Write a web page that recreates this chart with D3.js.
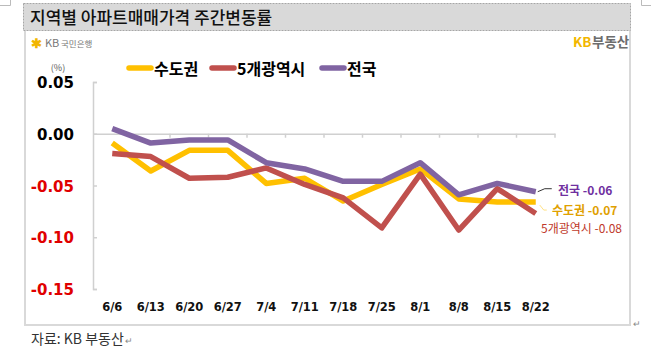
<!DOCTYPE html>
<html><head><meta charset="utf-8">
<script src="https://cdn.jsdelivr.net/npm/d3@7"></script>
<style>
body{margin:0;background:#fff;}
svg{display:block;font-family:"Malgun Gothic","Noto Sans CJK KR",sans-serif;}
</style></head>
<body>
<svg id="c" width="651" height="352"></svg>
<script>
const categories = ["6/6","6/13","6/20","6/27","7/4","7/11","7/18","7/25","8/1","8/8","8/15","8/22"];
const capital = [-0.009,-0.036,-0.016,-0.016,-0.048,-0.043,-0.065,-0.049,-0.034,-0.063,-0.066,-0.066];
const metro5 = [-0.019,-0.022,-0.043,-0.042,-0.033,-0.049,-0.062,-0.091,-0.039,-0.093,-0.053,-0.077];
const national = [0.005,-0.009,-0.006,-0.006,-0.028,-0.034,-0.046,-0.046,-0.028,-0.059,-0.048,-0.056];
const seriesNames = ["수도권","5개광역시","전국"];
const yTicks = [0.05,0.00,-0.05,-0.10,-0.15];
const endLabels = ["수도권 -0.07","5개광역시 -0.08","전국 -0.06"];

const svg = d3.select("#c");
const font = "'Noto Sans CJK KR',sans-serif";

// crop marks
svg.append("path").attr("d","M0,5.5H10.5V0").attr("fill","none").attr("stroke","#bbb").attr("stroke-width",1);
svg.append("path").attr("d","M651,5.5H641.5V0").attr("fill","none").attr("stroke","#bbb").attr("stroke-width",1);

// title bar
svg.append("rect").attr("x",23.5).attr("y",3.5).attr("width",607).attr("height",27)
  .attr("fill","#d9d9d9").attr("stroke","#a6a6a6").attr("stroke-dasharray","2,1").attr("stroke-width",1);
svg.append("text").attr("x",30).attr("y",23.5).attr("font-family",font).attr("font-size",17)
  .attr("font-weight",500).attr("fill","#111").text("지역별 아파트매매가격 주간변동률");
// box
svg.append("path").attr("d","M25,31V325H630V31").attr("fill","none").attr("stroke","#d9d9d9").attr("stroke-width",2);

// logos
const lg = svg.append("g").attr("font-family",font);
lg.append("text").attr("x",31).attr("y",47.5).attr("font-size",13).attr("fill","#f2b600").attr("font-weight","bold").text("✱");
lg.append("text").attr("x",45).attr("y",47).attr("font-size",11).attr("fill","#777").text("KB");
lg.append("text").attr("x",61).attr("y",46.5).attr("font-size",8.5).attr("fill","#777").text("국민은행");
lg.append("text").attr("x",573).attr("y",47).attr("font-size",13.5).attr("font-weight","bold").attr("fill","#f2b600").text("KB");
lg.append("text").attr("x",592).attr("y",47).attr("font-size",13.5).attr("font-weight","bold").attr("fill","#6d6d6d").text("부동산");

// scales
const x = d3.scaleBand().domain(categories).range([93,555]);
const y = d3.scaleLinear().domain([-0.15,0.05]).range([289,82]);

// y axis
const yAxis = svg.append("g").attr("transform","translate(93,0)")
  .call(d3.axisRight(y).tickValues(yTicks).tickSize(4).tickFormat(""));
yAxis.select(".domain").attr("stroke","#d0d0d0").attr("stroke-width",1.5);
yAxis.selectAll(".tick line").attr("stroke","#d0d0d0").attr("stroke-width",1.5);
svg.append("g").selectAll("text").data(yTicks).join("text")
  .attr("x",74).attr("y",d=>y(d)+6).attr("text-anchor","end")
  .attr("font-family","'DejaVu Sans',sans-serif").attr("font-weight","bold").attr("font-size",15)
  .attr("fill",d=>d<0?"#e00000":"#000").text(d=>d.toFixed(2));
svg.append("text").attr("x",58).attr("y",71).attr("text-anchor","middle").attr("font-family",font)
  .attr("font-size",9).attr("fill","#555").text("(%)");

// x axis at zero
const xAxis = svg.append("g").attr("transform",`translate(0,${y(0)})`)
  .call(d3.axisBottom(x).tickSize(0).tickFormat(""));
xAxis.select(".domain").attr("stroke","#d0d0d0").attr("stroke-width",1.5);
const bounds = categories.map((c,i)=>x(c)).slice(1).concat([x.range()[1]]);
svg.append("g").selectAll("line").data(bounds).join("line")
  .attr("x1",d=>d).attr("x2",d=>d).attr("y1",y(0)).attr("y2",y(0)+4)
  .attr("stroke","#d0d0d0").attr("stroke-width",1.5);
svg.append("g").selectAll("text").data(categories).join("text")
  .attr("x",d=>x(d)+x.bandwidth()/2).attr("y",311).attr("text-anchor","middle")
  .attr("font-family","'DejaVu Sans',sans-serif").attr("font-weight","bold").attr("font-size",11.5)
  .attr("fill","#111").text(d=>d);

// lines
const colors = ["#ffc000","#c0504d","#8064a2"];
const data = [capital, metro5, national];
const line = d3.line().x((d,i)=>x(categories[i])+x.bandwidth()/2).y(d=>y(d));
svg.append("g").selectAll("path").data(data).join("path")
  .attr("d",line).attr("fill","none").attr("stroke",(d,i)=>colors[i])
  .attr("stroke-width",5.5).attr("stroke-linejoin","round");

// legend
const legX = [127,210,320];
const leg = svg.append("g");
seriesNames.forEach((n,i)=>{
  leg.append("line").attr("x1",legX[i]+2).attr("x2",legX[i]+24).attr("y1",68).attr("y2",68)
    .attr("stroke",colors[i]).attr("stroke-width",5.5).attr("stroke-linecap","round");
  leg.append("text").attr("x",legX[i]+27).attr("y",74.5).attr("font-family",font)
    .attr("font-weight","bold").attr("font-size",16).attr("fill","#000").text(n);
});

// end labels
const last = categories.length-1;
const ex = x(categories[last])+x.bandwidth()/2;
svg.append("path").attr("d",`M${ex+2},${y(national[last])}L${ex+9},${y(national[last])-3}H${ex+16}`)
  .attr("fill","none").attr("stroke","#000").attr("stroke-width",0.8);
svg.append("path").attr("d",`M${ex+4},${y(capital[last])+3}L${ex+8},${y(capital[last])+8}H${ex+11}`)
  .attr("fill","none").attr("stroke","#ffd966").attr("stroke-width",0.8);
const lblColors = ["#e0a000","#c0392b","#7030a0"];
const lblPos = [[552,215],[541,233],[558,195]];
svg.append("g").selectAll("text").data(endLabels).join("text")
  .attr("x",(d,i)=>lblPos[i][0]).attr("y",(d,i)=>lblPos[i][1])
  .attr("font-family",font).attr("font-size",12).attr("font-weight",(d,i)=>i==1?"normal":"bold")
  .attr("fill",(d,i)=>lblColors[i]).text(d=>d);

// footer
svg.append("text").attr("x",633).attr("y",327).attr("font-size",9).attr("fill","#888").text("↵");
svg.append("text").attr("x",31).attr("y",344).attr("font-family",font).attr("font-size",14)
  .attr("fill","#333").text("자료: KB 부동산");
svg.append("text").attr("x",125).attr("y",344).attr("font-size",9).attr("fill","#888").text("↵");
</script>
</body></html>
